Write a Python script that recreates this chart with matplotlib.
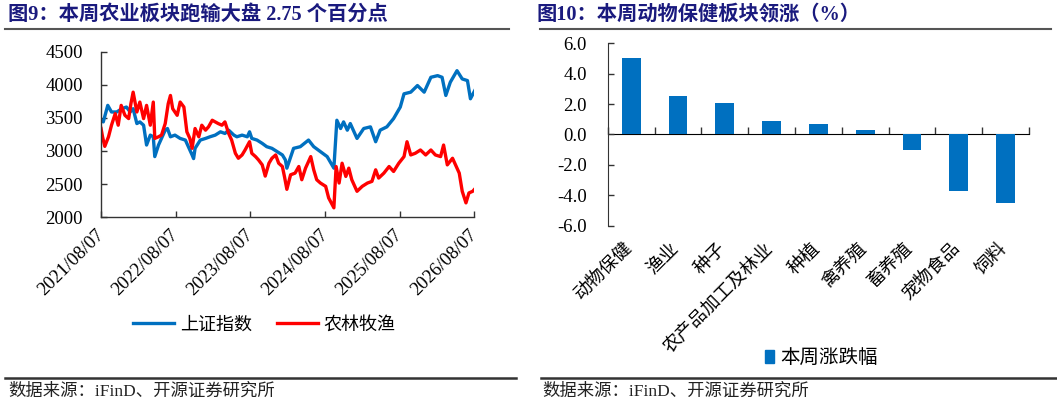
import matplotlib
matplotlib.use("Agg")
import matplotlib.pyplot as plt
import matplotlib.transforms as mtransforms
from matplotlib.lines import Line2D
from matplotlib.patches import Patch
import numpy as np

# ---------------- data ----------------
sse_t = [2021.60, 2021.63, 2021.69, 2021.74, 2021.81, 2021.88, 2021.94, 2021.99, 2022.03, 2022.08,
         2022.12, 2022.17, 2022.21, 2022.26, 2022.30, 2022.32, 2022.37, 2022.41, 2022.46, 2022.49,
         2022.53, 2022.59, 2022.66, 2022.73, 2022.77, 2022.82, 2022.84, 2022.86, 2022.93, 2023.00,
         2023.06, 2023.13, 2023.20, 2023.26, 2023.31, 2023.38, 2023.42, 2023.49, 2023.56, 2023.59,
         2023.62, 2023.69, 2023.76, 2023.82, 2023.89, 2023.96, 2024.03, 2024.07, 2024.09, 2024.18,
         2024.27, 2024.38, 2024.45, 2024.54, 2024.63, 2024.72, 2024.76, 2024.81, 2024.85, 2024.90,
         2024.94, 2025.03, 2025.12, 2025.21, 2025.28, 2025.34, 2025.43, 2025.52, 2025.61, 2025.66,
         2025.75, 2025.84, 2025.93, 2026.02, 2026.11, 2026.17, 2026.22, 2026.28, 2026.37, 2026.44,
         2026.51, 2026.55, 2026.62]
sse_v = [3465, 3440, 3690, 3590, 3590, 3640, 3665, 3590, 3640, 3415,
         3440, 3390, 3090, 3240, 3215, 2915, 3090, 3190, 3315, 3340,
         3215, 3240, 3190, 3165, 3065, 2940, 2885, 3040, 3165, 3190,
         3215, 3240, 3290, 3265, 3315, 3240, 3215, 3240, 3215, 3290,
         3190, 3165, 3115, 3065, 3040, 2990, 2940, 2865, 2740, 3040,
         3065, 3165, 3065, 2990, 2915, 2740, 3465, 3340, 3440, 3315,
         3415, 3190, 3340, 3365, 3140, 3315, 3365, 3490, 3665, 3865,
         3890, 3990, 3890, 4115, 4140, 4115, 3840, 4040, 4215, 4090,
         4065, 3790, 3940]

agri_t = [2021.60, 2021.62, 2021.65, 2021.70, 2021.74, 2021.79, 2021.83, 2021.87, 2021.92, 2021.97,
          2022.00, 2022.03, 2022.08, 2022.12, 2022.17, 2022.21, 2022.26, 2022.30, 2022.32, 2022.37,
          2022.41, 2022.46, 2022.50, 2022.53, 2022.56, 2022.62, 2022.66, 2022.71, 2022.75, 2022.79,
          2022.82, 2022.86, 2022.91, 2022.95, 2023.00, 2023.04, 2023.09, 2023.13, 2023.17, 2023.22,
          2023.26, 2023.31, 2023.35, 2023.40, 2023.44, 2023.49, 2023.53, 2023.59, 2023.62, 2023.67,
          2023.71, 2023.76, 2023.80, 2023.85, 2023.89, 2023.94, 2023.98, 2024.03, 2024.06, 2024.09,
          2024.14, 2024.20, 2024.25, 2024.29, 2024.34, 2024.41, 2024.45, 2024.49, 2024.54, 2024.61,
          2024.65, 2024.72, 2024.75, 2024.79, 2024.83, 2024.88, 2024.92, 2024.96, 2025.03, 2025.10,
          2025.17, 2025.23, 2025.28, 2025.32, 2025.39, 2025.46, 2025.52, 2025.59, 2025.66, 2025.70,
          2025.75, 2025.81, 2025.88, 2025.95, 2026.02, 2026.08, 2026.15, 2026.19, 2026.24, 2026.31,
          2026.35, 2026.40, 2026.44, 2026.49, 2026.53, 2026.58, 2026.62]
agri_v = [3340, 3215, 3070, 3215, 3390, 3565, 3390, 3690, 3540, 3490,
          3715, 3890, 3590, 3740, 3490, 3690, 3390, 3740, 3190, 3215,
          3240, 3415, 3715, 3840, 3640, 3540, 3740, 3665, 3290, 3190,
          3040, 3340, 3215, 3390, 3315, 3365, 3465, 3440, 3415, 3390,
          3440, 3265, 3165, 2965, 2890, 2940, 3015, 3140, 2965, 2915,
          2865, 2790, 2620, 2815, 2890, 2940, 2815, 2765, 2600, 2420,
          2640, 2665, 2765, 2565, 2740, 2915, 2715, 2565, 2515, 2465,
          2290, 2140, 2765, 2515, 2815, 2615, 2740, 2565, 2390, 2465,
          2515, 2540, 2715, 2590, 2665, 2765, 2690, 2815, 2915, 3140,
          2940, 2965, 3015, 2940, 3015, 2940, 2915, 3090, 2790, 2890,
          2790, 2665, 2390, 2215, 2365, 2390, 2440]

date_ticks = [2021.60, 2022.60, 2023.60, 2024.60, 2025.60, 2026.60]
date_labels = ["2021/08/07", "2022/08/07", "2023/08/07", "2024/08/07", "2025/08/07", "2026/08/07"]
y1_ticks = [2000, 2500, 3000, 3500, 4000, 4500]

categories = ["动物保健", "渔业", "种子", "农产品加工及林业", "种植", "禽养殖", "畜养殖", "宠物食品", "饲料"]
changes = [5.05, 2.51, 2.09, 0.89, 0.69, 0.29, -1.04, -3.71, -4.51]
y2_ticks = [-6.0, -4.0, -2.0, 0.0, 2.0, 4.0, 6.0]

title1 = "图9：本周农业板块跑输大盘 2.75 个百分点"
title2 = "图10：本周动物保健板块领涨（%）"
source = "数据来源：iFinD、开源证券研究所"
series_names = ["上证指数", "农林牧渔"]
bar_name = "本周涨跌幅"

# ---------------- style ----------------
BLUE = "#0070C0"
RED = "#FF0000"
NAVY = "#1a1a7e"
SERIF = ["Liberation Serif", "Noto Sans CJK SC"]
CJK = ["Noto Sans CJK SC", "DejaVu Sans"]

fig = plt.figure(figsize=(10.57, 4.05), dpi=100)

# ---- left chart ----
ax1 = fig.add_axes([0.0956, 0.464, 0.353, 0.408])
ax1.plot(sse_t, sse_v, color=BLUE, lw=2.4, label=series_names[0], solid_joinstyle="round")
ax1.plot(agri_t, agri_v, color=RED, lw=2.4, label=series_names[1], solid_joinstyle="round")
ax1.set_ylim(2000, 4500)
ax1.set_xlim(2021.60, 2026.60)
ax1.set_yticks(y1_ticks)
ax1.set_yticklabels([str(v) for v in y1_ticks], fontfamily=SERIF, fontsize=13.5)
ax1.set_xticks(date_ticks)
ax1.set_xticklabels(date_labels, rotation=45, ha="right", fontfamily=SERIF, fontsize=13.5)
ax1.tick_params(direction="in", length=4, width=1, color="#333333")
ax1.tick_params(axis="y", pad=13)
ax1.tick_params(axis="x", pad=7)
shift1 = mtransforms.ScaledTranslation(6 / 100, 0, fig.dpi_scale_trans)
for lab in ax1.get_xticklabels():
    lab.set_transform(lab.get_transform() + shift1)
for s in ["top", "right"]:
    ax1.spines[s].set_visible(False)
for s in ["left", "bottom"]:
    ax1.spines[s].set_color("#333333")
    ax1.spines[s].set_linewidth(1)
fig.legend(handles=ax1.get_lines(), loc="center", bbox_to_anchor=(0.25, 0.198), ncol=2,
           frameon=False, prop={"family": CJK, "size": 13}, handlelength=2.3,
           handletextpad=0.3, columnspacing=1.4)

# ---- right chart ----
ax2 = fig.add_axes([0.575, 0.443, 0.3985, 0.45])
x = np.arange(len(categories))
ax2.bar(x, changes, width=0.4, color=BLUE, label=bar_name, zorder=3)
ax2.set_ylim(-6, 6)
ax2.set_xlim(-0.5, len(categories) - 0.5)
ax2.set_yticks(y2_ticks)
ax2.set_yticklabels([f"{v:.1f}" for v in y2_ticks], fontfamily=SERIF, fontsize=13.5)
ax2.tick_params(axis="y", direction="in", length=4, width=1, color="#333333", pad=15)
ax2.set_xticks(x)
ax2.set_xticklabels(categories, rotation=45, ha="right", fontfamily=CJK, fontsize=13.2)
ax2.tick_params(axis="x", length=0, pad=10)
shift2 = mtransforms.ScaledTranslation(5 / 100, 0, fig.dpi_scale_trans)
for lab in ax2.get_xticklabels():
    lab.set_transform(lab.get_transform() + shift2)
for s in ["top", "right", "bottom"]:
    ax2.spines[s].set_visible(False)
ax2.spines["left"].set_color("#333333")
sec = ax2.secondary_xaxis(0.5)
sec.set_xticks(np.arange(len(categories) + 1) - 0.5)
sec.set_xticklabels([])
sec.tick_params(direction="out", length=5, width=1, color="#333333")
sec.spines["bottom"].set_color("#333333")
fig.legend(handles=[Patch(color=BLUE, label=bar_name)], loc="center", bbox_to_anchor=(0.777, 0.116),
           frameon=False, prop={"family": CJK, "size": 14}, handlelength=0.5, handleheight=0.6,
           handletextpad=0.3)

# ---- titles, rules, sources ----
fig.text(0.0076, 0.963, title1, fontfamily=SERIF, fontsize=14.6, fontweight="bold", color=NAVY, va="center")
fig.text(0.508, 0.963, title2, fontfamily=SERIF, fontsize=14.6, fontweight="bold", color=NAVY, va="center")
for (x0, x1) in [(0.005, 0.482), (0.511, 0.994)]:
    fig.add_artist(Line2D([x0, x1], [0.928, 0.928], color="#555555", lw=1.5))
for (x0, x1) in [(0.005, 0.488), (0.512, 0.999)]:
    fig.add_artist(Line2D([x0, x1], [0.067, 0.067], color="#333333", lw=1.8))
fig.text(0.0076, 0.033, source, fontfamily=SERIF, fontsize=12.5, color="#222222", va="center")
fig.text(0.513, 0.033, source, fontfamily=SERIF, fontsize=12.5, color="#222222", va="center")

fig.savefig("out.png", dpi=100)
